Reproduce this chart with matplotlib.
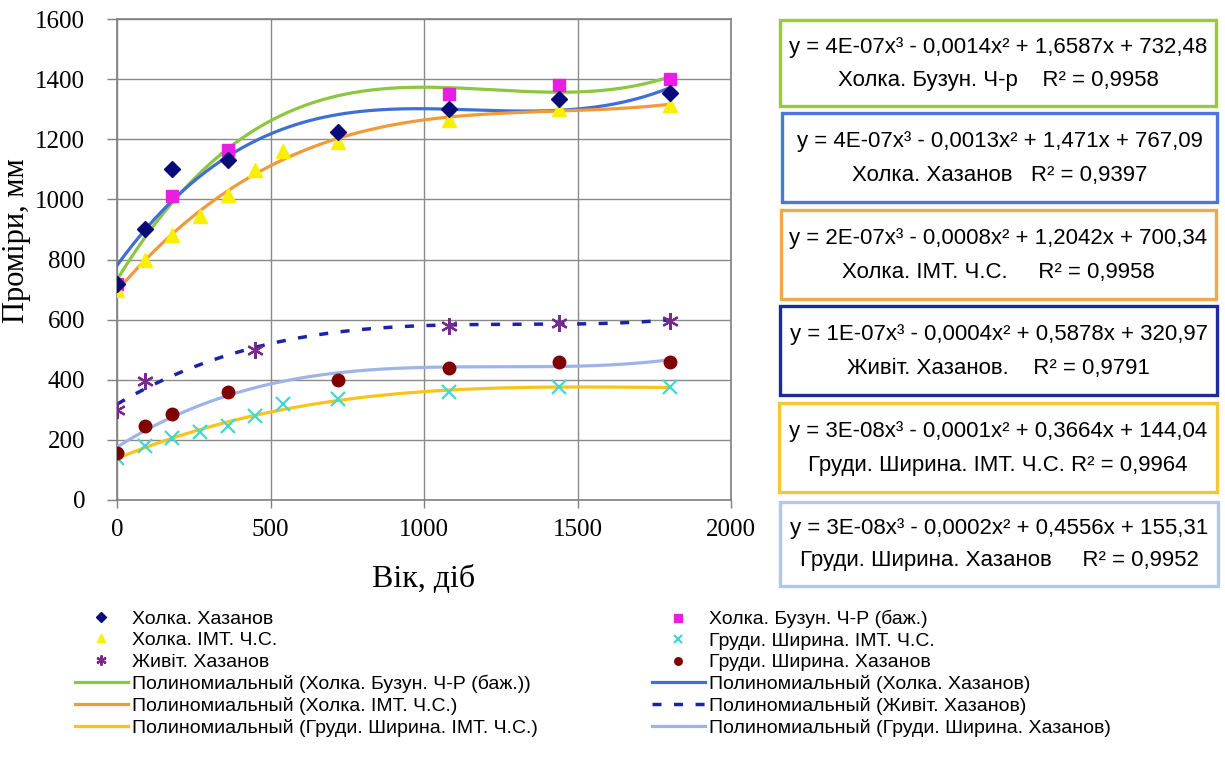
import numpy as np
import matplotlib
matplotlib.use("Agg")
import matplotlib.pyplot as plt
from matplotlib.patches import Rectangle

# ---------------- data ----------------
x_holka_khaz = [0, 90, 180, 360, 720, 1080, 1440, 1800]
y_holka_khaz = [720, 900, 1100, 1130, 1225, 1300, 1335, 1355]

x_holka_buz = [0, 180, 360, 1080, 1440, 1800]
y_holka_buz = [720, 1010, 1165, 1350, 1380, 1400]

x_holka_imt = [0, 90, 180, 270, 360, 450, 540, 720, 1080, 1440, 1800]
y_holka_imt = [700, 800, 880, 945, 1015, 1098, 1161, 1190, 1265, 1300, 1315]

x_zhyvit = [0, 90, 450, 1080, 1440, 1800]
y_zhyvit = [300, 395, 500, 580, 590, 597]

x_grudy_imt = [0, 90, 180, 270, 360, 450, 540, 720, 1080, 1440, 1800]
y_grudy_imt = [140, 180, 205, 225, 245, 280, 320, 335, 360, 375, 375]

x_grudy_khaz = [0, 90, 180, 360, 720, 1080, 1440, 1800]
y_grudy_khaz = [155, 245, 285, 360, 400, 440, 460, 460]

x_ticks = [0, 500, 1000, 1500, 2000]
y_ticks = [0, 200, 400, 600, 800, 1000, 1200, 1400, 1600]

eq_lines = [
    ("y = 4E-07x³ - 0,0014x² + 1,6587x + 732,48", "Холка. Бузун. Ч-р    R² = 0,9958"),
    ("y = 4E-07x³ - 0,0013x² + 1,471x + 767,09", "Холка. Хазанов   R² = 0,9397"),
    ("y = 2E-07x³ - 0,0008x² + 1,2042x + 700,34", "Холка. ІМТ. Ч.С.     R² = 0,9958"),
    ("y = 1E-07x³ - 0,0004x² + 0,5878x + 320,97", "Живіт. Хазанов.    R² = 0,9791"),
    ("y = 3E-08x³ - 0,0001x² + 0,3664x + 144,04", "Груди. Ширина. ІМТ. Ч.С. R² = 0,9964"),
    ("y = 3E-08x³ - 0,0002x² + 0,4556x + 155,31", "Груди. Ширина. Хазанов     R² = 0,9952"),
]

# ---------------- style ----------------
W, H = 1225, 778
fig = plt.figure(figsize=(W / 100, H / 100), dpi=100)
fig.patch.set_facecolor("white")

def fx(px):
    return px / W

def fy(py):
    return 1 - py / H

ax_l, ax_r, ax_t, ax_b = 117, 731, 19, 500
ax = fig.add_axes([fx(ax_l), fy(ax_b), fx(ax_r - ax_l), (ax_b - ax_t) / H])

serif = "Liberation Serif"
sans = "Liberation Sans"

c_green = "#8dc63f"
c_blue = "#3f6fd6"
c_orange = "#f29a38"
c_navy = "#1c23a8"
c_yellow = "#f7c41c"
c_lblue = "#9fb4e6"

xf = np.linspace(0, 1800, 300)

def trend(xs, ys):
    p = np.polyfit(xs, ys, 3)
    return np.polyval(p, xf)

# trend lines
l_green, = ax.plot(xf, trend(x_holka_buz, y_holka_buz), color=c_green, lw=2.3, zorder=3)
l_blue, = ax.plot(xf, trend(x_holka_khaz, y_holka_khaz), color=c_blue, lw=2.3, zorder=3)
l_orange, = ax.plot(xf, trend(x_holka_imt, y_holka_imt), color=c_orange, lw=2.3, zorder=3)
l_navy, = ax.plot(xf, trend(x_zhyvit, y_zhyvit), color=c_navy, lw=2.5,
                  linestyle=(0, (2.6, 3.6)), zorder=3)
l_yellow, = ax.plot(xf, trend(x_grudy_imt, y_grudy_imt), color=c_yellow, lw=2.3, zorder=3)
l_lblue, = ax.plot(xf, trend(x_grudy_khaz, y_grudy_khaz), color=c_lblue, lw=2.3, zorder=3)

# scatter points
m_diamond, = ax.plot(x_holka_khaz, y_holka_khaz, ls="none", marker="D", ms=8,
                     color="#0a0a78", zorder=5)
m_square, = ax.plot(x_holka_buz, y_holka_buz, ls="none", marker="s", ms=9,
                    color="#e81ee0", zorder=4)
m_tri, = ax.plot(x_holka_imt, y_holka_imt, ls="none", marker="^", ms=10,
                 color="#f8f000", zorder=4)
m_ast, = ax.plot(x_zhyvit, y_zhyvit, ls="none", marker=(6, 2, 0), ms=12, mew=1.6,
                 color="#7a2a8c", zorder=5)
m_x, = ax.plot(x_grudy_imt, y_grudy_imt, ls="none", marker="x", ms=10, mew=1.6,
               color="#40d8d0", zorder=5)
m_circ, = ax.plot(x_grudy_khaz, y_grudy_khaz, ls="none", marker="o", ms=9,
                  color="#800000", zorder=5)

ax.set_xlim(0, 2000)
ax.set_ylim(0, 1600)
ax.set_xticks(x_ticks)
ax.set_yticks(y_ticks)
ax.set_xticklabels([str(v) for v in x_ticks], fontfamily=serif, fontsize=18)
ax.set_yticklabels([str(v) for v in y_ticks], fontfamily=serif, fontsize=18)
ax.yaxis.set_tick_params(direction="out", length=7, width=1, color="#808080", pad=16)
ax.xaxis.set_tick_params(direction="out", length=6, width=1, color="#808080", pad=8)
ax.grid(True, color="#8a8a8a", lw=1)
ax.set_axisbelow(True)
for s in ax.spines.values():
    s.set_color("#808080")
    s.set_linewidth(1.2)

ax.set_ylabel("Проміри, мм", fontfamily=serif, fontsize=22)
ax.yaxis.set_label_coords(-0.14, 0.54)
ax.set_xlabel("Вік, діб", fontfamily=serif, fontsize=23)
ax.xaxis.set_label_coords(0.5, -0.135)

# ---------------- equation boxes ----------------
boxes = [
    (780, 20, 1216, 106, "#9bc93a"),
    (782, 113, 1217, 202, "#4a78d6"),
    (781, 210, 1216, 299, "#f0a848"),
    (780, 306, 1217, 395, "#1c2b9c"),
    (779, 403, 1217, 492, "#f5c53a"),
    (780, 502, 1218, 586, "#b4c6ea"),
]
for (x0, y0, x1, y1, col), (t1, t2) in zip(boxes, eq_lines):
    fig.patches.append(Rectangle((fx(x0), fy(y1)), fx(x1 - x0), (y1 - y0) / H,
                                 transform=fig.transFigure, fill=False,
                                 edgecolor=col, lw=2.4))
    cx = (x0 + x1) / 2
    h = y1 - y0
    fig.text(fx(cx), fy(y0 + h * 0.32), t1, ha="center", va="center",
             fontfamily=sans, fontsize=16)
    fig.text(fx(cx), fy(y0 + h * 0.70), t2, ha="center", va="center",
             fontfamily=sans, fontsize=16)

# ---------------- legend ----------------
left_handles = [m_diamond, m_tri, m_ast, l_green, l_orange, l_yellow]
left_labels = ["Холка. Хазанов", "Холка. ІМТ. Ч.С.", "Живіт. Хазанов",
               "Полиномиальный (Холка. Бузун. Ч-Р (баж.))",
               "Полиномиальный (Холка. ІМТ. Ч.С.)",
               "Полиномиальный (Груди. Ширина. ІМТ. Ч.С.)"]
right_handles = [m_square, m_x, m_circ, l_blue, l_navy, l_lblue]
right_labels = ["Холка. Бузун. Ч-Р (баж.)", "Груди. Ширина. ІМТ. Ч.С.",
                "Груди. Ширина. Хазанов",
                "Полиномиальный (Холка. Хазанов)",
                "Полиномиальный (Живіт. Хазанов)",
                "Полиномиальный (Груди. Ширина. Хазанов)"]

leg_kw = dict(loc="upper left", frameon=False, borderpad=0, borderaxespad=0,
              handlelength=2.7, handletextpad=0.25, labelspacing=0.2,
              markerscale=0.6, prop={"family": sans, "size": 14})
leg1 = fig.legend(left_handles, left_labels, bbox_to_anchor=(fx(75), fy(610)), **leg_kw)
leg2 = fig.legend(right_handles, right_labels, bbox_to_anchor=(fx(652), fy(610)), **leg_kw)

fig.savefig("out.png", dpi=100, facecolor="white")
